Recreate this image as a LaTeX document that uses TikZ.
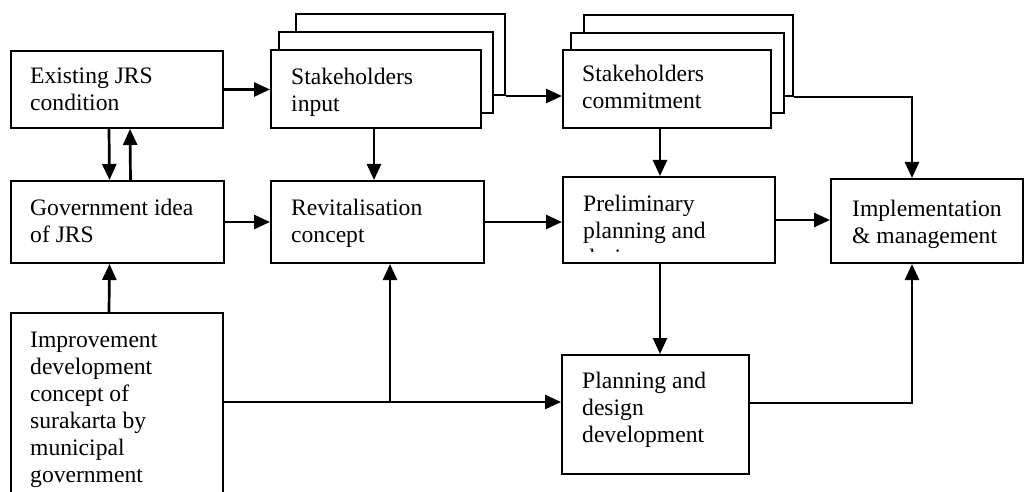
\documentclass[tikz,border=0pt]{standalone}
\usepackage{fontspec}
\setmainfont{Liberation Serif}
\usetikzlibrary{arrows.meta,calc}
\begin{document}
\begin{tikzpicture}[x=1pt,y=-1pt,
  box/.style={draw, line width=2pt, fill=white, anchor=north west, inner sep=0pt, rectangle},
  txt/.style={anchor=north west, align=left, inner sep=0pt, font=\fontsize{23.6}{27}\selectfont},
  arr/.style={line width=2.7pt, -{Triangle[length=16pt,width=14pt]}},
  ln/.style={line width=1.6pt},
]
\useasboundingbox (0,0) rectangle (1026,492);
\clip (0,0) rectangle (1026,492);

% boxes
\node[box, minimum width=212pt, minimum height=77pt] (exist) at (10,50) {};
\node[box, minimum width=213pt, minimum height=82pt] (gov) at (10,180) {};
\node[box, minimum width=209pt, minimum height=81pt] (inB2) at (295,13) {};
\node[box, minimum width=214pt, minimum height=81pt] (inB1) at (278,31) {};
\node[box, minimum width=210pt, minimum height=78pt] (inF) at (270,49) {};
\node[box, minimum width=213pt, minimum height=82pt] (revit) at (270,180) {};
\node[box, minimum width=209pt, minimum height=81pt] (cmB2) at (583,14) {};
\node[box, minimum width=213pt, minimum height=80pt] (cmB1) at (570,32) {};
\node[box, minimum width=208pt, minimum height=78pt] (cmF) at (562,49) {};
\node[box, minimum width=212pt, minimum height=86pt] (prel) at (562,176) {};
\node[box, minimum width=192pt, minimum height=84pt] (impl) at (830,178) {};
\node[box, minimum width=212pt, minimum height=200pt] (imp) at (10,312) {};
\node[box, minimum width=187pt, minimum height=119pt] (plan) at (561,354) {};

% texts
\node[txt] (existT) at ([shift={(20pt,-18pt)}]exist.north west) {Existing JRS\\condition};
\node[txt] (govT) at ([shift={(20pt,-19pt)}]gov.north west) {Government idea\\of JRS};
\node[txt] (inT) at ([shift={(21pt,-19pt)}]inF.north west) {Stakeholders\\input};
\node[txt] (revitT) at ([shift={(21pt,-19pt)}]revit.north west) {Revitalisation\\concept};
\node[txt] (cmT) at ([shift={(20pt,-16pt)}]cmF.north west) {Stakeholders\\commitment};
\begin{scope}
\clip (prel.north west) rectangle ([yshift=12.5pt]prel.south east);
\node[txt] (prelT) at ([shift={(21pt,-19pt)}]prel.north west) {Preliminary\\planning and\\design};
\end{scope}
\node[txt] (implT) at ([shift={(22pt,-22pt)}]impl.north west) {Implementation\\\& management};
\node[txt] (impT) at ([shift={(20pt,-20pt)}]imp.north west) {Improvement\\development\\concept of\\surakarta by\\municipal\\government};
\node[txt] (planT) at ([shift={(21pt,-18pt)}]plan.north west) {Planning and\\design\\development};

% connectors
\draw[arr] (exist.east) -- (exist.east -| inF.west);
\draw[arr] ([xshift=-8pt]exist.south) -- ([xshift=-8pt]gov.north);
\draw[arr] ([xshift=13pt]gov.north) -- ([xshift=13pt]exist.south);
\draw[arr] (gov.east) -- (revit.west);
\draw[arr] ([xshift=-2pt]inF.south) -- ([xshift=-2pt]inF.south |- revit.north);
\draw[arr] (inB2.south east) -- (inB2.south east -| cmF.west);
\draw[arr] ([xshift=-7pt]cmF.south) -- ([xshift=-7pt]cmF.south |- prel.north);
\draw[arr] (cmB2.south east) -| ([xshift=-15pt]impl.north);
\draw[arr] (revit.east) -- (revit.east -| prel.west);
\draw[arr] (prel.east) -- (prel.east -| impl.west);
\draw[arr] ([xshift=-9pt]prel.south) -- ([xshift=-9pt]prel.south |- plan.north);
\draw[arr] ([yshift=11.5pt]plan.east) -| ([xshift=-15pt]impl.south);
\draw[arr] ([xshift=-8pt]imp.north) -- ([xshift=-8pt]gov.south);
\coordinate (j) at (390,402);
\draw[ln] (imp.east |- j) -- (j);
\draw[arr] (j) -- (j -| plan.west);
\draw[arr] (j) -- (j |- revit.south);
\end{tikzpicture}
\end{document}
